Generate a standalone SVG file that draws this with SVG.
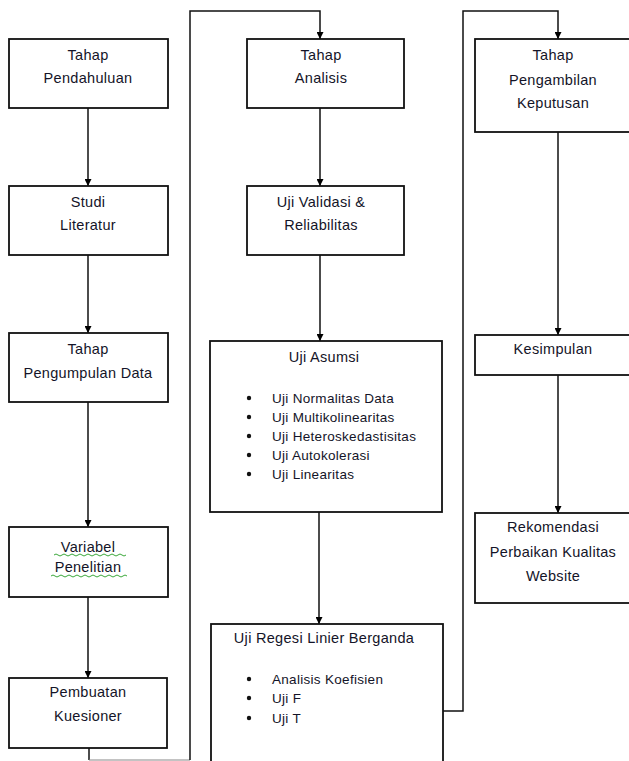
<svg xmlns="http://www.w3.org/2000/svg" width="629" height="761" viewBox="0 0 629 761">
<defs>
<marker id="arr" viewBox="0 0 10 10" refX="10" refY="5" markerWidth="7" markerHeight="7" markerUnits="userSpaceOnUse" orient="auto">
<path d="M0,0 L10,5 L0,10 z" fill="#000"/>
</marker>
</defs>
<style>
.box{fill:#fff;stroke:#111;stroke-width:1.8}
.t{font-family:"Liberation Sans",Arial,sans-serif;font-size:14.5px;fill:#141428;text-anchor:middle;letter-spacing:0.3px}
.l{font-family:"Liberation Sans",Arial,sans-serif;font-size:13.5px;fill:#141428;letter-spacing:0.3px}
.c{fill:none;stroke:#111;stroke-width:1.5}
.sq{fill:none;stroke:#3aa83a;stroke-width:1}
</style>
<rect width="629" height="761" fill="#fff"/>
<g id="connectors">
<path class="c" d="M88,108 V186" marker-end="url(#arr)"/>
<path class="c" d="M88,255 V333" marker-end="url(#arr)"/>
<path class="c" d="M88,402 V527" marker-end="url(#arr)"/>
<path class="c" d="M88,597 V678" marker-end="url(#arr)"/>
<path class="c" d="M89,748 V760"/>
<path d="M89,760 H190" fill="none" stroke="#888" stroke-width="1.2"/>
<path class="c" d="M190,760 V11 H320 V39" marker-end="url(#arr)"/>
<path class="c" d="M320,108 V186" marker-end="url(#arr)"/>
<path class="c" d="M320,255 V341" marker-end="url(#arr)"/>
<path class="c" d="M319,512 V624" marker-end="url(#arr)"/>
<path class="c" d="M443,711 H463 V11 H558 V39" marker-end="url(#arr)"/>
<path class="c" d="M558,132 V335" marker-end="url(#arr)"/>
<path class="c" d="M558,375 V513" marker-end="url(#arr)"/>
</g>
<g id="n1"><rect class="box" x="9" y="39" width="159" height="69"/><text class="t" x="88" y="60">Tahap</text><text class="t" x="88" y="83">Pendahuluan</text></g>
<g id="n2"><rect class="box" x="9" y="186" width="159" height="69"/><text class="t" x="88" y="207">Studi</text><text class="t" x="88" y="230">Literatur</text></g>
<g id="n3"><rect class="box" x="9" y="333" width="159" height="69"/><text class="t" x="88" y="354">Tahap</text><text class="t" x="88" y="378">Pengumpulan Data</text></g>
<g id="n4"><rect class="box" x="9" y="527" width="159" height="70"/><text class="t" x="88" y="552">Variabel</text><text class="t" x="88" y="572">Penelitian</text>
<path class="sq" d="M54,555 q2,-2 4,0 t4,0 t4,0 t4,0 t4,0 t4,0 t4,0 t4,0 t4,0 t4,0 t4,0 t4,0 t4,0 t4,0 t4,0 t4,0 t4,0 t4,0"/>
<path class="sq" d="M51,576 q2,-2 4,0 t4,0 t4,0 t4,0 t4,0 t4,0 t4,0 t4,0 t4,0 t4,0 t4,0 t4,0 t4,0 t4,0 t4,0 t4,0 t4,0 t4,0 t4,0"/>
</g>
<g id="n5"><rect class="box" x="9" y="678" width="158" height="70"/><text class="t" x="88" y="697">Pembuatan</text><text class="t" x="88" y="721">Kuesioner</text></g>
<g id="n6"><rect class="box" x="247" y="39" width="157" height="69"/><text class="t" x="321" y="60">Tahap</text><text class="t" x="321" y="83">Analisis</text></g>
<g id="n7"><rect class="box" x="247" y="186" width="157" height="69"/><text class="t" x="321" y="207">Uji Validasi &amp;</text><text class="t" x="321" y="230">Reliabilitas</text></g>
<g id="n8"><rect class="box" x="210" y="341" width="232" height="171"/><text class="t" x="324" y="362">Uji Asumsi</text>
<g fill="#111"><circle cx="249" cy="398" r="2.2"/><circle cx="249" cy="417" r="2.2"/><circle cx="249" cy="436" r="2.2"/><circle cx="249" cy="455" r="2.2"/><circle cx="249" cy="474" r="2.2"/></g>
<text class="l" x="272" y="403">Uji Normalitas Data</text>
<text class="l" x="272" y="422">Uji Multikolinearitas</text>
<text class="l" x="272" y="441">Uji Heteroskedastisitas</text>
<text class="l" x="272" y="460">Uji Autokolerasi</text>
<text class="l" x="272" y="479">Uji Linearitas</text>
</g>
<g id="n9"><rect class="box" x="211" y="624" width="232" height="150"/><text class="t" x="324" y="643">Uji Regesi Linier Berganda</text>
<g fill="#111"><circle cx="249" cy="679" r="2.2"/><circle cx="249" cy="698" r="2.2"/><circle cx="249" cy="718" r="2.2"/></g>
<text class="l" x="272" y="684">Analisis Koefisien</text>
<text class="l" x="272" y="703">Uji F</text>
<text class="l" x="272" y="723">Uji T</text>
</g>
<g id="n10"><rect class="box" x="475" y="39" width="170" height="93"/><text class="t" x="553" y="60">Tahap</text><text class="t" x="553" y="85">Pengambilan</text><text class="t" x="553" y="108">Keputusan</text></g>
<g id="n11"><rect class="box" x="475" y="335" width="170" height="40"/><text class="t" x="553" y="354">Kesimpulan</text></g>
<g id="n12"><rect class="box" x="475" y="513" width="170" height="90"/><text class="t" x="553" y="532">Rekomendasi</text><text class="t" x="553" y="557">Perbaikan Kualitas</text><text class="t" x="553" y="581">Website</text></g>
</svg>
